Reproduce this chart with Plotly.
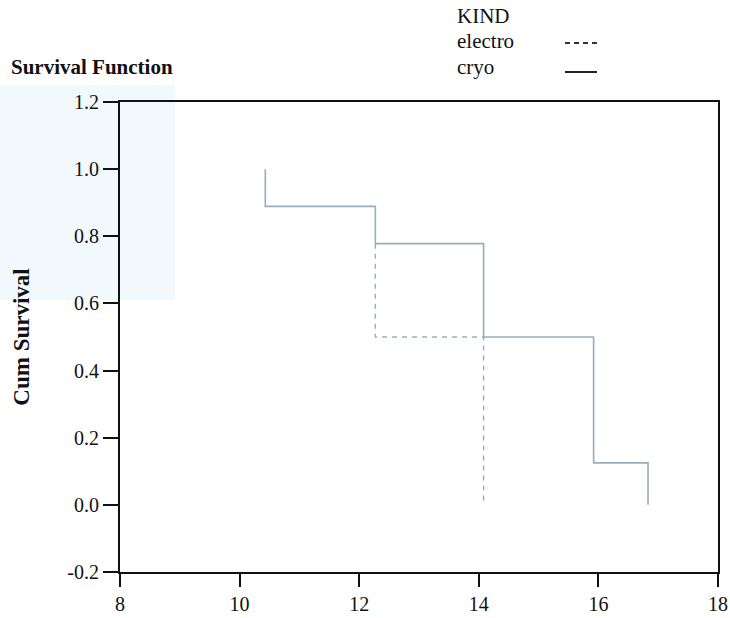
import plotly.graph_objects as go

# Data
cryo_time = [10.43, 10.43, 12.27, 14.08, 15.92, 16.83]
cryo_surv = [1.0, 0.889, 0.778, 0.5, 0.125, 0.0]
electro_time = [12.27, 12.27, 14.08]
electro_surv = [0.778, 0.5, 0.0]

x_ticks = [8, 10, 12, 14, 16, 18]
y_ticks = [-0.2, 0.0, 0.2, 0.4, 0.6, 0.8, 1.0, 1.2]

line_color = "#97adc0"
serif = "Liberation Serif, Times New Roman, serif"

fig = go.Figure()
fig.add_trace(go.Scatter(x=cryo_time, y=cryo_surv, mode="lines", line_shape="hv",
                         line=dict(color=line_color, width=1.6), name="cryo", showlegend=False))
fig.add_trace(go.Scatter(x=electro_time, y=electro_surv, mode="lines", line_shape="hv",
                         line=dict(color=line_color, width=1.4, dash="5px,5px"), name="electro",
                         showlegend=False))

W, H = 730, 618
# screen coordinates of the plot area
SL, SR, ST, SB = 120, 718, 102, 572
L, T, R, B = SL, ST, W - SR, H - SB
pw, ph = SR - SL, SB - ST

def px(xs):
    return (xs - SL) / pw

def py(ys):
    return (SB - ys) / ph

shapes = [
    # faint scan tint at top-left
    dict(type="rect", xref="paper", yref="paper", x0=px(0), x1=px(175), y0=py(300), y1=py(85),
         fillcolor="rgba(225,241,249,0.45)", line=dict(width=0), layer="below"),
    # legend samples
    dict(type="line", xref="paper", yref="paper", x0=px(565), x1=px(597), y0=py(43), y1=py(43),
         line=dict(color="#333333", width=2, dash="5px,4px")),
    dict(type="line", xref="paper", yref="paper", x0=px(565), x1=px(597), y0=py(72), y1=py(72),
         line=dict(color="#222222", width=2)),
]

txt_font = dict(family=serif, size=21, color="#111")
annotations = [
    dict(text="<b>Survival Function</b>", xref="paper", yref="paper", x=px(9), y=py(67),
         xanchor="left", yanchor="middle", showarrow=False,
         font=dict(family=serif, size=21, color="#111")),
    dict(text="KIND", xref="paper", yref="paper", x=px(455), y=py(16),
         xanchor="left", yanchor="middle", showarrow=False, font=txt_font),
    dict(text="electro", xref="paper", yref="paper", x=px(455), y=py(41),
         xanchor="left", yanchor="middle", showarrow=False, font=txt_font),
    dict(text="cryo", xref="paper", yref="paper", x=px(455), y=py(67),
         xanchor="left", yanchor="middle", showarrow=False, font=txt_font),
]

fig.update_layout(
    width=W, height=H,
    margin=dict(l=L, r=R, t=T, b=B, autoexpand=False),
    paper_bgcolor="white", plot_bgcolor="white",
    shapes=shapes, annotations=annotations,
    font=dict(family=serif, size=20, color="#111"),
)
fig.update_xaxes(range=[8, 18], tickvals=x_ticks, ticktext=[str(v) for v in x_ticks],
                 showgrid=False, zeroline=False, showline=True, linecolor="#111", linewidth=2,
                 mirror=True, ticks="outside", ticklen=13, tickwidth=2, tickcolor="#111",
                 tickfont=dict(family=serif, size=20), automargin=False,
                 ticklabeloverflow="allow")
fig.update_yaxes(range=[-0.2, 1.2], tickvals=y_ticks, ticktext=[f"{v:.1f}" for v in y_ticks],
                 showgrid=False, zeroline=False, showline=True, linecolor="#111", linewidth=2,
                 mirror=True, ticks="outside", ticklen=15, tickwidth=2, tickcolor="#111",
                 tickfont=dict(family=serif, size=20), automargin=False,
                 title=dict(text="<b>Cum Survival</b>", font=dict(family=serif, size=23), standoff=31))

fig.write_html("out.html", config={"displayModeBar": False},
               post_script="document.body.style.margin='0';document.body.style.overflow='hidden';")
